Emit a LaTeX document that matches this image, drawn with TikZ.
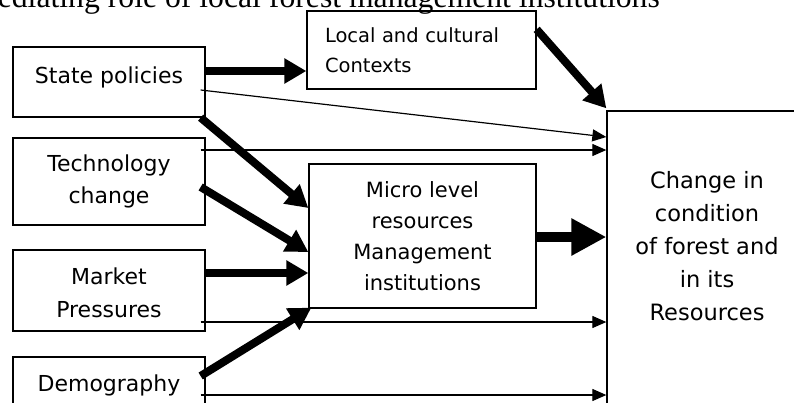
\documentclass[tikz,border=0pt]{standalone}
\usepackage{fontspec}
\setmainfont{DejaVu Sans}
\newfontfamily\titlefont{Liberation Serif}
\usetikzlibrary{arrows.meta,calc}
\tikzset{
  box/.style={draw, line width=1.3pt, inner sep=0pt, align=center,
    font=\fontsize{22}{32}\selectfont},
  boxtext/.style={inner sep=0pt, align=center, font=\fontsize{22.5}{33}\selectfont},
  bigarrow/.style={line width=8pt, -{Triangle[length=22pt,width=24pt]}},
  hugearrow/.style={line width=10pt, -{Triangle[length=35pt,width=35pt]}},
  thinarrow/.style={line width=1.2pt, -{Triangle[length=14pt,width=12pt]}},
}
\begin{document}
\begin{tikzpicture}[x=1pt,y=-1pt]
\useasboundingbox (0,0) rectangle (794,402);
\fill[white] (0,0) rectangle (794,402);

\node[anchor=base east, inner sep=0pt, font=\titlefont\fontsize{31.7}{36}\selectfont] (title) at (660,7)
  {ediating role of local forest management institutions};

\node[box, minimum width=192pt, minimum height=70pt] (sp) at (109,82)
  {\raisebox{-1pt}[0pt][0pt]{State policies}};
\node[box, minimum width=192pt, minimum height=87pt] (tc) at (109,181.5) {Technology\\change};
\node[box, minimum width=192pt, minimum height=81pt] (mp) at (109,290.5)
  {\raisebox{-9.5pt}[0pt][0pt]{\begin{tabular}{@{}c@{}}Market\\[1pt]Pressures\end{tabular}}};
\node[box, minimum width=192pt, minimum height=56pt] (dm) at (109,385) {Demography};

\node[box, minimum width=229pt, minimum height=78pt, text width=193pt, inner xsep=18pt,
  align=left, font=\fontsize{19.5}{30}\selectfont] (lc) at (421.5,50)
  {Local and cultural\\Contexts};

\node[box, minimum width=227pt, minimum height=144pt, font=\fontsize{21}{31}\selectfont] (mi) at (422.5,236)
  {Micro level\\resources\\Management\\institutions};

\node[box, minimum width=213pt, minimum height=330pt] (chbox) at (713.5,276) {};
\node[boxtext] (ch) at (707,246)
  {Change in\\condition\\of forest and\\in its\\Resources};

% thick arrows
\draw[bigarrow] (sp.east |- 0,71) -- (lc.west |- 0,71);
\draw[bigarrow] ($(lc.north east)+(0,19)$) -- ($(chbox.north west)+(0,-2)$);
\draw[bigarrow] ($(sp.south east)+(-5,0)$) -- (mi.west |- 0,208);
\draw[bigarrow] ($(tc.east)+(-5,5.5)$) -- (mi.west |- 0,252);
\draw[bigarrow] (mp.east |- 0,273) -- (mi.west |- 0,273);
\draw[bigarrow] ($(dm.east)+(-5,-9)$) -- ($(mi.south west)+(3,-1)$);
\draw[hugearrow] (mi.east |- 0,237) -- (chbox.west |- 0,237);

% thin arrows
\draw[thinarrow] ($(sp.east)+(-5,8)$) -- (chbox.west |- 0,137);
\draw[thinarrow] ($(tc.east)+(-5,-31.5)$) -- (chbox.west |- 0,150);
\draw[thinarrow] ($(mp.east)+(-5,31.5)$) -- (chbox.west |- 0,322);
\draw[thinarrow] ($(dm.east)+(-5,10)$) -- (chbox.west |- 0,395);
\end{tikzpicture}
\end{document}
